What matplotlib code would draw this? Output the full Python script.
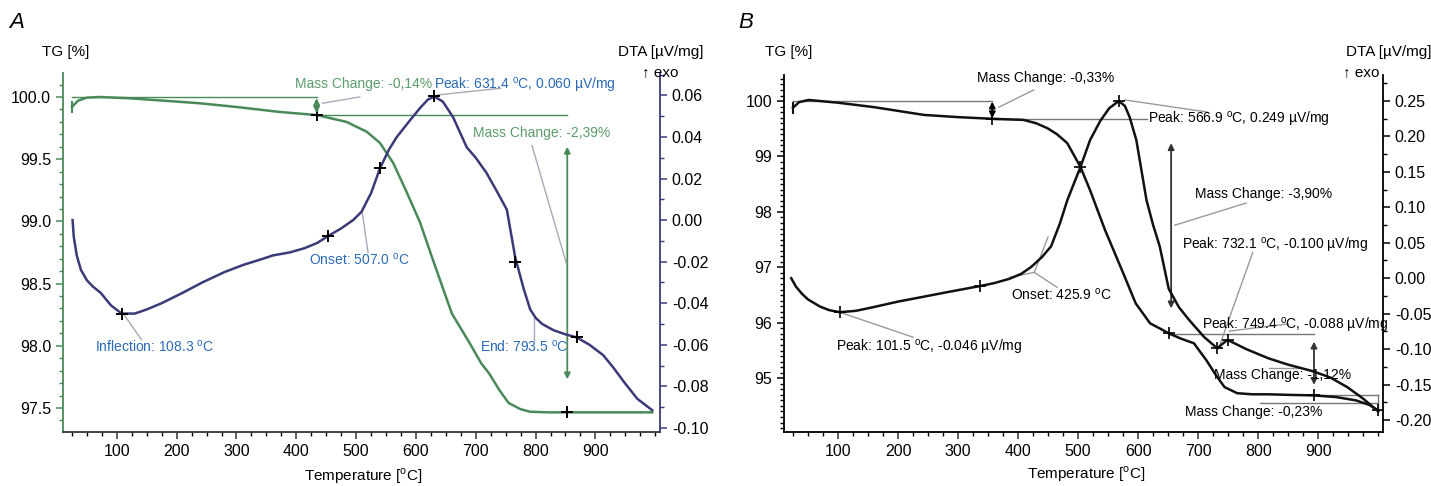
import matplotlib.pyplot as plt
from matplotlib.ticker import MultipleLocator, FormatStrFormatter, FuncFormatter

plt.rcParams["font.family"] = ["Liberation Sans", "DejaVu Sans"]
plt.rcParams["mathtext.fontset"] = "custom"
plt.rcParams["mathtext.rm"] = "Liberation Sans"

DEG = r"$^{\mathrm{o}}$C"

# ---- panel A data -------------------------------------------------------
tA_tg = [25, 35, 50, 71, 120, 180, 238, 300, 372, 434, 484, 518, 540, 562, 585,
         607, 627, 660, 690, 709, 722, 740, 755, 775, 791, 820, 853, 900, 950, 995]
tgA = [99.92, 99.97, 99.995, 100.0, 99.99, 99.97, 99.95, 99.92, 99.88, 99.855,
       99.80, 99.72, 99.63, 99.47, 99.23, 98.99, 98.71, 98.26, 98.02, 97.86,
       97.78, 97.64, 97.54, 97.49, 97.47, 97.465, 97.465, 97.465, 97.465, 97.465]

tA_dta = [26, 28, 33, 40, 50, 60, 73, 90, 108, 130, 150, 175, 210, 243, 280, 312,
          340, 361, 390, 414, 435, 453, 475, 495, 509, 525, 540, 555, 568, 590,
          607, 620, 631, 645, 662, 685, 700, 718, 735, 752, 766, 780, 791, 800,
          811, 830, 850, 869, 890, 913, 930, 948, 970, 995]
dtaA = [0.000, -0.008, -0.017, -0.024, -0.029, -0.032, -0.035, -0.041, -0.045,
        -0.045, -0.043, -0.040, -0.035, -0.030, -0.025, -0.0215, -0.019, -0.017,
        -0.0155, -0.0135, -0.011, -0.0077, -0.004, 0.000, 0.004, 0.013, 0.025,
        0.034, 0.040, 0.048, 0.054, 0.058, 0.0595, 0.057, 0.0496, 0.035, 0.030,
        0.0227, 0.014, 0.005, -0.018, -0.033, -0.043, -0.047, -0.050, -0.053,
        -0.055, -0.0565, -0.060, -0.065, -0.071, -0.078, -0.086, -0.0915]

markA_tg = ([434, 853], [99.855, 97.465])
markA_dta = ([108, 453, 540, 631, 766, 869], [-0.045, -0.0077, 0.025, 0.0595, -0.020, -0.0565])

# ---- panel B data -------------------------------------------------------
tB_tg = [25, 35, 51, 100, 160, 243, 300, 357, 409, 430, 449, 465, 482, 504, 520,
         545, 575, 596, 620, 641, 651, 670, 693, 714, 730, 744, 765, 790, 817,
         850, 893, 930, 963, 985, 1000]
tgB = [99.88, 99.98, 100.02, 99.97, 99.89, 99.75, 99.71, 99.68, 99.66, 99.60,
       99.51, 99.40, 99.24, 98.81, 98.39, 97.67, 96.90, 96.35, 95.99, 95.87,
       95.81, 95.72, 95.63, 95.32, 95.05, 94.84, 94.73, 94.71, 94.71, 94.70,
       94.69, 94.66, 94.60, 94.52, 94.42]

tB_dta = [22, 30, 40, 50, 70, 85, 103, 130, 158, 200, 231, 280, 337, 360, 385,
          405, 422, 440, 455, 470, 482, 504, 520, 537, 552, 568, 578, 586, 597,
          614, 625, 636, 651, 668, 685, 710, 732, 740, 749, 780, 817, 850, 890,
          920, 949, 975, 1000]
dtaB = [0.000, -0.012, -0.022, -0.030, -0.040, -0.045, -0.048, -0.046, -0.041,
        -0.033, -0.028, -0.020, -0.011, -0.007, -0.001, 0.006, 0.016, 0.030,
        0.045, 0.078, 0.110, 0.157, 0.195, 0.222, 0.240, 0.250, 0.243, 0.227,
        0.195, 0.110, 0.075, 0.045, -0.015, -0.041, -0.059, -0.083, -0.099,
        -0.093, -0.087, -0.100, -0.113, -0.122, -0.131, -0.140, -0.154, -0.170,
        -0.188]

markB_tg = ([357, 504, 651, 893, 1000], [99.68, 98.81, 95.81, 94.69, 94.42])
markB_dta = ([103, 337, 568, 732, 749], [-0.048, -0.011, 0.250, -0.099, -0.087])

W, H = 1431, 486
GREEN = "#4a8a5a"
GREEN_TXT = "#5c9c6c"
NAVY = "#3b3a78"
BLUE = "#2a6ab8"
GRAY = "#9a9a9a"


def px(x, y):
    return x / W, 1 - y / H


def fmt2(v, _pos):
    v = round(v, 4) + 0.0
    return "0.00" if abs(v) < 1e-6 else f"{v:.2f}"


def style_axes(ax, ax2, lc, rc):
    for a in (ax, ax2):
        a.spines["top"].set_visible(False)
    ax.spines["right"].set_visible(False)
    ax2.spines["left"].set_visible(False)
    ax2.spines["bottom"].set_visible(False)
    ax.spines["left"].set_color(lc)
    ax2.spines["right"].set_color(rc)
    ax.spines["bottom"].set_color("#333333")
    for a in (ax, ax2):
        for s in a.spines.values():
            s.set_linewidth(1.3)
    ax.set_xlim(10, 1008)
    ax.xaxis.set_minor_locator(MultipleLocator(25))
    ax.set_xticks(range(100, 1000, 100))
    ax.tick_params(which="major", length=5, width=1.1, labelsize=11.5, color="#333333")
    ax.tick_params(which="minor", length=3, width=1)
    ax.tick_params(axis="y", which="both", color=lc)
    ax2.tick_params(which="major", length=5, width=1.1, labelsize=11.5, color=rc)
    ax2.tick_params(which="minor", length=3, width=1, color=rc)


def dbl_arrow(ax, x, y0, y1, color):
    ax.annotate("", xy=(x, y1), xytext=(x, y0),
                arrowprops=dict(arrowstyle="<|-|>", color=color, lw=1.3,
                                mutation_scale=9, shrinkA=0, shrinkB=0))


fig = plt.figure(figsize=(W / 100, H / 100), dpi=100)

# =============================== panel A ===============================
axA = fig.add_axes([63 / W, 54 / H, 597 / W, 359 / H])
axA2 = axA.twinx()
style_axes(axA, axA2, GREEN, NAVY)
axA.set_ylim(97.307, 100.193)
axA.yaxis.set_major_locator(MultipleLocator(0.5))
axA.yaxis.set_minor_locator(MultipleLocator(0.1))
axA.yaxis.set_major_formatter(FormatStrFormatter("%.1f"))
axA2.set_ylim(-0.102, 0.0708)
axA2.set_yticks([-0.10, -0.08, -0.06, -0.04, -0.02, 0.0, 0.02, 0.04, 0.06])
axA2.yaxis.set_minor_locator(MultipleLocator(0.01))
axA2.yaxis.set_major_formatter(FuncFormatter(fmt2))

# mass change guides
axA.plot([25, 434], [100.0, 100.0], color=GREEN, lw=1)
axA.plot([434, 853], [99.855, 99.855], color=GREEN, lw=1)
dbl_arrow(axA, 434, 99.99, 99.87, GREEN)
dbl_arrow(axA, 853, 99.60, 97.73, GREEN)
axA.plot(tA_tg, tgA, color=GREEN, lw=1.8)
axA.plot(tA_tg[0], tgA[0], marker="|", color=GREEN, ms=9, mew=1.5)
axA.plot(*markA_tg, ls="none", marker="+", color="black", ms=9, mew=1.4)

axA2.plot(tA_dta, dtaA, color=NAVY, lw=1.8)
axA2.plot(*markA_dta, ls="none", marker="+", color="black", ms=9, mew=1.4)

# leaders
for (x0, y0), (x1, y1) in [((444, 99.95), (506, 100.0)),
                           ((635, 100.016), (741, 100.07)),
                           ((794, 99.61), (851, 98.67)),
                           ((510, 99.08), (520, 98.75)),
                           ((112, 98.25), (141, 98.05)),
                           ((798, 98.22), (798, 98.05))]:
    axA.plot([x0, x1], [y0, y1], color="#a8a8b8", lw=1)

axA.text(397, 100.105, "Mass Change: -0,14%", color=GREEN_TXT, fontsize=10, va="center")
axA.text(630, 100.096, f"Peak: 631.4 {DEG}, 0.060 µV/mg", color=BLUE, fontsize=10, va="center")
axA.text(695, 99.71, "Mass Change: -2,39%", color=GREEN_TXT, fontsize=10, va="center")
axA.text(421, 98.69, f"Onset: 507.0 {DEG}", color=BLUE, fontsize=10, va="center")
axA.text(64, 97.99, f"Inflection: 108.3 {DEG}", color=BLUE, fontsize=10, va="center")
axA.text(707, 97.99, f"End: 793.5 {DEG}", color=BLUE, fontsize=10, va="center")

# =============================== panel B ===============================
axB = fig.add_axes([784 / W, 54 / H, 599 / W, 357 / H])
axB2 = axB.twinx()
style_axes(axB, axB2, "black", "black")
axB.spines["bottom"].set_color("black")
axB.set_ylim(94.03, 100.47)
axB.yaxis.set_major_locator(MultipleLocator(1))
axB.yaxis.set_minor_locator(MultipleLocator(0.1))
axB2.set_ylim(-0.217, 0.2867)
axB2.yaxis.set_major_locator(MultipleLocator(0.05))
axB2.yaxis.set_minor_locator(MultipleLocator(0.025))
axB2.yaxis.set_major_formatter(FuncFormatter(fmt2))

for xs, ys in [([25, 357], [100.0, 100.0]), ([357, 614], [99.68, 99.68]),
               ([651, 893], [95.79, 95.79]), ([893, 1000], [94.69, 94.69]),
               ([1000, 1000], [94.69, 94.42]), ([803, 1000], [94.55, 94.55])]:
    axB.plot(xs, ys, color="#777777", lw=1)
dbl_arrow(axB, 357, 99.99, 99.69, "black")
dbl_arrow(axB, 655, 99.24, 96.26, "#333333")
dbl_arrow(axB, 893, 95.66, 94.88, "#333333")

axB.plot(tB_tg, tgB, color="#111111", lw=1.8)
axB.plot(tB_tg[0], tgB[0], marker="|", color="#111111", ms=9, mew=1.5)
axB.plot(*markB_tg, ls="none", marker="+", color="black", ms=9, mew=1.2)
axB2.plot(tB_dta, dtaB, color="#111111", lw=1.8)
axB2.plot(*markB_dta, ls="none", marker="+", color="black", ms=9, mew=1.2)

for (x0, y0), (x1, y1) in [((368, 99.89), (426, 100.20)),
                           ((578, 100.02), (716, 99.80)),
                           ((661, 97.76), (780, 98.16)),
                           ((736, 95.60), (791, 97.27)),
                           ((752, 95.85), (850, 95.98)),
                           ((818, 95.19), (870, 95.19)),
                           ((427, 96.91), (450, 97.55)),
                           ((427, 96.91), (386, 96.82)),
                           ((427, 96.91), (465, 96.64)),
                           ((103, 96.19), (225, 95.74))]:
    axB.plot([x0, x1], [y0, y1], color=GRAY, lw=1)

axB.text(332, 100.415, "Mass Change: -0,33%", fontsize=10, va="center")
axB.text(616, 99.66, f"Peak: 566.9 {DEG}, 0.249 µV/mg", fontsize=10, va="center")
axB.text(694, 98.32, "Mass Change: -3,90%", fontsize=10, va="center")
axB.text(673, 97.40, f"Peak: 732.1 {DEG}, -0.100 µV/mg", fontsize=10, va="center")
axB.text(706, 95.96, f"Peak: 749.4 {DEG}, -0.088 µV/mg", fontsize=10, va="center")
axB.text(726, 95.05, "Mass Change: -1,12%", fontsize=10, va="center")
axB.text(678, 94.39, "Mass Change: -0,23%", fontsize=10, va="center")
axB.text(389, 96.50, f"Onset: 425.9 {DEG}", fontsize=10, va="center")
axB.text(97, 95.56, f"Peak: 101.5 {DEG}, -0.046 µV/mg", fontsize=10, va="center")

# ---- figure-level labels ----------------------------------------------
fig.text(*px(9, 23), "A", fontsize=16, style="italic", va="center")
fig.text(*px(738, 23), "B", fontsize=16, style="italic", va="center")
fig.text(*px(42, 52), "TG [%]", fontsize=11, va="center")
fig.text(*px(765, 52), "TG [%]", fontsize=11, va="center")
fig.text(*px(703, 52), "DTA [µV/mg]", fontsize=11, va="center", ha="right")
fig.text(*px(642, 72), "↑ exo", fontsize=11, va="center")
fig.text(*px(1431, 52), "DTA [µV/mg]", fontsize=11, va="center", ha="right")
fig.text(*px(1343, 72), "↑ exo", fontsize=11, va="center")
fig.text(*px(363, 476), f"Temperature [{DEG}]", fontsize=11, va="center", ha="center")
fig.text(*px(1086, 474), f"Temperature [{DEG}]", fontsize=11, va="center", ha="center")

fig.savefig("out.png", dpi=100)
